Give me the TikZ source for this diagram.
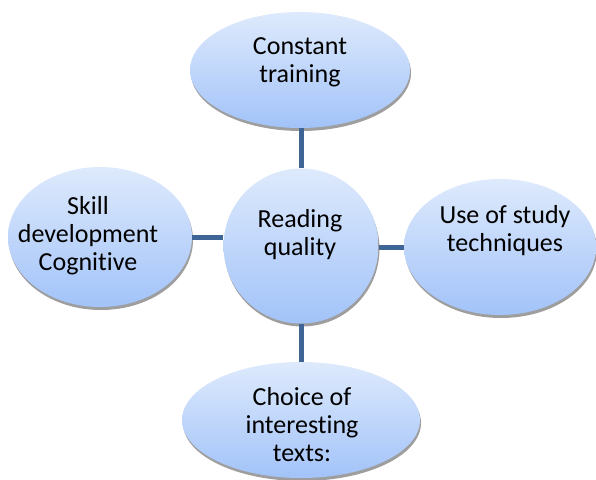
\documentclass[tikz,border=0pt]{standalone}
\usepackage{fontspec}
\setmainfont[Ligatures=NoCommon]{Carlito}
\usepackage{tikz}
\usetikzlibrary{calc}
\usetikzlibrary{shapes.geometric}
\usetikzlibrary{shadows}
\definecolor{bubtop}{HTML}{DEEAFC}
\definecolor{bubbot}{HTML}{A2C3F9}
\definecolor{linkblue}{HTML}{3F6597}
\tikzset{
  bubble/.style={ellipse, inner sep=0pt, top color=bubtop, bottom color=bubbot,
    drop shadow={shadow xshift=1pt, shadow yshift=-3pt, fill=black!38, opacity=1}},
  txt/.style={align=center, font=\fontsize{26}{28}\selectfont, inner sep=0pt},
  link/.style={draw=linkblue, line width=5pt}
}
\begin{document}
\begin{tikzpicture}[x=1pt, y=-1pt]
    \useasboundingbox (0,0) rectangle (596,479);
    \node (train) at (300,70) [bubble, minimum width=220pt, minimum height=116pt] {};
    \node (reading) at (301,246) [bubble, circle, minimum size=155pt] {};
    \node (skill) at (100,237) [bubble, minimum width=184pt, minimum height=140pt] {};
    \node (study) at (500,247) [bubble, minimum width=192pt, minimum height=136pt] {};
    \node (choice) at (301,420) [bubble, minimum width=238pt, minimum height=116pt] {};
    \draw [link] (train.south -| reading.north) -- (reading.north);
    \draw [link] (reading.south) -- (reading.south |- choice.north);
    \draw [link] (skill.east) -- (skill.east -| reading.west);
    \draw [link] (reading.east |- study.west) -- (study.west);
    \node (traintxt) at (300,62) [txt] {Constant\\training};
    \node (readingtxt) at (300,235) [txt] {Reading\\quality};
    \node (skilltxt) at (88,236) [txt] {Skill\\development\\Cognitive};
    \node (studytxt) at (505,231) [txt] {Use of study\\techniques};
    \node (choicetxt) at (302,425) [txt] {Choice of\\interesting\\texts:};
\end{tikzpicture}
\end{document}
